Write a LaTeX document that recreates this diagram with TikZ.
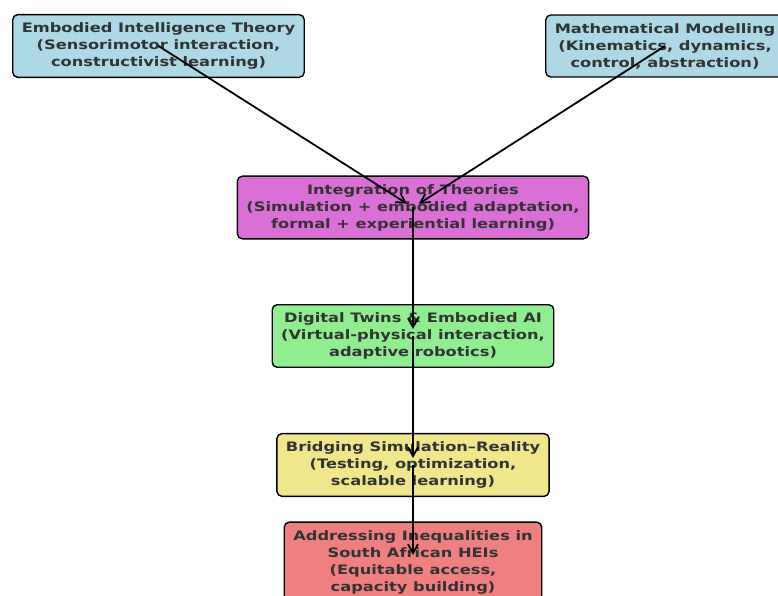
\documentclass[tikz,border=0pt]{standalone}
\usepackage{fontspec}
\setmainfont{DejaVu Sans}[FakeStretch=1.25]
\usetikzlibrary{arrows.meta}
\definecolor{boxBlue}{HTML}{ADD8E6}
\definecolor{boxOrchid}{HTML}{DA70D6}
\definecolor{boxGreen}{HTML}{90EE90}
\definecolor{boxKhaki}{HTML}{F0E68C}
\definecolor{boxCoral}{HTML}{F08080}
\definecolor{textGrey}{HTML}{333333}
\begin{document}
\begin{tikzpicture}
[x=1pt,y=1pt,
  boxDecorate/.style={shape=rectangle,rounded corners=5pt,draw=black,line width=1.4pt,%
    align=center,font=\bfseries\fontsize{13}{17}\selectfont,text=textGrey,%
    inner xsep=9pt,inner ysep=8pt,minimum height=62pt},%
  arrowDecorate/.style={-{Straight Barb[length=9pt,width=10pt]},line width=1.8pt,shorten >=7pt}]
\useasboundingbox (0,0) rectangle (778,596);
%% boxes
\foreach \nodename/\x/\y/\fillcolor/\nodetext in {
  theory/158.5/550/boxBlue/{Embodied Intelligence Theory\\(Sensorimotor interaction,\\constructivist learning)},
  maths/665/550/boxBlue/{Mathematical Modelling\\(Kinematics, dynamics,\\control, abstraction)},
  integ/413/388.5/boxOrchid/{Integration of Theories\\(Simulation + embodied adaptation,\\formal + experiential learning)},
  twins/413/260/boxGreen/{Digital Twins \& Embodied AI\\(Virtual-physical interaction,\\adaptive robotics)},
  bridge/413/131/boxKhaki/{Bridging Simulation--Reality\\(Testing, optimization,\\scalable learning)},
  ineq/413/34/boxCoral/{Addressing Inequalities in\\South African HEIs\\(Equitable access,\\capacity building)}}
{
  \node (\nodename) at (\x,\y) [boxDecorate,fill=\fillcolor] {\nodetext};
}
%% arrows
\foreach \startnode/\endnode in {
  theory/integ, maths/integ, integ/twins, twins/bridge, bridge/ineq}
{
  \draw[arrowDecorate] (\startnode.center) -- (\endnode.center);
}
\end{tikzpicture}
\end{document}
